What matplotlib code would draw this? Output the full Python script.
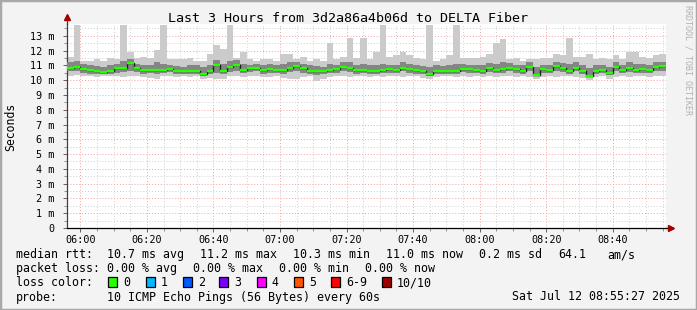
import matplotlib
matplotlib.use('Agg')
import matplotlib.pyplot as plt
import matplotlib.dates as mdates
from matplotlib.patches import Rectangle
from datetime import datetime, timedelta

# one value per 2 minutes, from 05:56 to 08:56 (ms)
median_rtt = [10.85, 10.9, 10.75, 10.7, 10.6, 10.55, 10.65, 10.8, 10.85, 11.15,
              10.8, 10.7, 10.7, 10.7, 10.7, 10.75, 10.65, 10.6, 10.6, 10.65,
              10.4, 10.6, 11.0, 10.65, 10.9, 11.05, 10.7, 10.8, 10.85, 10.7,
              10.75, 10.7, 10.7, 10.8, 10.95, 10.8, 10.65, 10.6, 10.6, 10.7,
              10.75, 10.9, 10.8, 10.7, 10.7, 10.65, 10.65, 10.7, 10.75, 10.7,
              10.85, 10.75, 10.7, 10.6, 10.4, 10.65, 10.65, 10.6, 10.6, 10.75,
              10.75, 10.7, 10.65, 10.8, 10.7, 10.75, 10.85, 10.75, 10.65, 10.9,
              10.35, 10.75, 10.7, 10.95, 10.8, 10.65, 10.85, 10.6, 10.3, 10.65,
              10.7, 10.5, 10.9, 10.7, 10.8, 10.7, 10.75, 10.7, 10.9, 10.95]
rtt_max = [11.6, 13.7, 11.3, 11.3, 11.4, 11.3, 11.5, 11.4, 13.7, 11.9,
           11.5, 11.6, 11.5, 12.05, 13.7, 11.4, 11.4, 11.4, 11.5, 11.3,
           11.3, 11.8, 12.4, 12.1, 13.7, 11.5, 11.9, 11.4, 11.3, 11.4,
           11.4, 11.3, 11.8, 11.8, 11.4, 11.6, 11.3, 11.4, 11.3, 12.5,
           11.4, 11.6, 12.85, 11.5, 12.85, 11.4, 11.9, 13.7, 11.6, 11.7,
           11.9, 11.7, 11.5, 11.4, 13.7, 11.3, 11.4, 11.7, 13.7, 11.5,
           11.5, 11.5, 11.6, 11.8, 12.5, 12.8, 11.4, 11.5, 11.3, 11.4,
           11.4, 11.5, 11.5, 11.8, 11.7, 12.85, 11.6, 11.6, 11.8, 11.4,
           11.5, 11.4, 11.7, 11.4, 11.9, 11.9, 11.6, 11.5, 11.7, 11.8]
rtt_min = [10.3, 10.35, 10.25, 10.3, 10.2, 10.25, 10.3, 10.25, 10.2, 10.3,
           10.3, 10.2, 10.15, 10.1, 10.25, 10.3, 10.2, 10.25, 10.2, 10.3,
           10.1, 10.15, 10.05, 10.1, 10.25, 10.3, 10.2, 10.3, 10.25, 10.2,
           10.2, 10.3, 10.15, 10.1, 10.05, 10.2, 10.3, 9.95, 10.05, 10.2,
           10.25, 10.3, 10.2, 10.25, 10.3, 10.2, 10.25, 10.2, 10.3, 10.25,
           10.2, 10.3, 10.25, 10.15, 10.05, 10.2, 10.25, 10.3, 10.2, 10.25,
           10.2, 10.25, 10.2, 10.3, 10.2, 10.3, 10.25, 10.2, 10.25, 10.2,
           10.1, 10.2, 10.25, 10.2, 10.25, 10.3, 10.2, 10.15, 10.0, 10.2,
           10.25, 10.1, 10.2, 10.25, 10.2, 10.3, 10.25, 10.2, 10.25, 10.25]
rtt_lo = [10.6, 10.6, 10.5, 10.45, 10.4, 10.4, 10.45, 10.5, 10.55, 10.6,
          10.55, 10.45, 10.5, 10.45, 10.5, 10.55, 10.45, 10.4, 10.4, 10.45,
          10.3, 10.4, 10.5, 10.45, 10.55, 10.6, 10.5, 10.55, 10.6, 10.45,
          10.5, 10.5, 10.45, 10.55, 10.6, 10.5, 10.45, 10.35, 10.4, 10.5,
          10.5, 10.6, 10.55, 10.45, 10.5, 10.45, 10.45, 10.5, 10.5, 10.5,
          10.6, 10.5, 10.45, 10.4, 10.3, 10.45, 10.45, 10.4, 10.4, 10.55,
          10.5, 10.5, 10.45, 10.55, 10.5, 10.5, 10.6, 10.5, 10.45, 10.6,
          10.25, 10.5, 10.5, 10.65, 10.55, 10.45, 10.6, 10.4, 10.2, 10.45,
          10.5, 10.35, 10.6, 10.5, 10.55, 10.5, 10.5, 10.5, 10.6, 10.65]
rtt_hi = [11.2, 11.3, 11.1, 11.0, 10.95, 10.9, 11.0, 11.1, 11.3, 11.45,
          11.1, 11.05, 11.0, 11.2, 11.1, 11.0, 10.95, 10.9, 11.0, 11.0,
          10.9, 11.0, 11.35, 11.1, 11.3, 11.35, 11.1, 11.05, 11.1, 11.0,
          11.1, 11.0, 11.1, 11.2, 11.25, 11.1, 11.0, 10.95, 10.9, 11.1,
          11.05, 11.2, 11.2, 11.05, 11.1, 11.0, 11.05, 11.1, 11.05, 11.05,
          11.2, 11.1, 11.0, 10.95, 10.9, 11.0, 10.95, 11.0, 11.1, 11.1,
          11.05, 11.0, 11.0, 11.15, 11.1, 11.2, 11.15, 11.05, 11.0, 11.2,
          10.9, 11.05, 11.0, 11.25, 11.15, 11.1, 11.2, 11.0, 10.85, 11.0,
          11.05, 10.9, 11.2, 11.05, 11.2, 11.1, 11.1, 11.0, 11.2, 11.25]

loss_labels = ['0', '1', '2', '3', '4', '5', '6-9', '10/10']
loss_colors = ['#26ff00', '#00b8ff', '#0059ff', '#7e00ff', '#ff00ff',
               '#ff5500', '#ff0000', '#a00000']

W, H = 697, 310
MONO = 'DejaVu Sans Mono'

fig = plt.figure(figsize=(W / 100, H / 100), dpi=100, facecolor='#f3f3f3')
ax = fig.add_axes([67 / W, 1 - 228 / H, (666 - 67) / W, (228 - 24) / H])
ax.set_facecolor('white')

start = datetime(2025, 7, 12, 5, 56)
edges = [start + timedelta(minutes=2 * i) for i in range(len(median_rtt) + 1)]
xs = mdates.date2num(edges)


def ext(a):
    return list(a) + [a[-1]]


ax.fill_between(xs, ext(rtt_min), ext(rtt_max), step='post', color='#cbcbcb', lw=0, zorder=2)
ax.fill_between(xs, ext(rtt_lo), ext(rtt_hi), step='post', color='#858585', lw=0, zorder=3)
ax.step(xs, ext(median_rtt), where='post', color='#202020', lw=1.0, zorder=4)
ax.hlines(median_rtt, xs[:-1], xs[1:], color=loss_colors[0], lw=1.7, zorder=5)

ax.set_xlim(xs[0], xs[-1])
ax.set_ylim(0, 13.8)

ax.yaxis.set_major_locator(plt.MultipleLocator(1))
ax.yaxis.set_minor_locator(plt.MultipleLocator(0.5))
ax.yaxis.set_major_formatter(plt.FuncFormatter(lambda v, p: '0' if v == 0 else '%d m' % v))
ax.xaxis.set_major_locator(mdates.MinuteLocator(byminute=[0, 20, 40]))
ax.xaxis.set_minor_locator(mdates.MinuteLocator(byminute=range(0, 60, 5)))
ax.xaxis.set_major_formatter(mdates.DateFormatter('%H:%M'))

ax.set_axisbelow(True)
ax.grid(which='major', color='#f2a0a0', ls=(0, (1, 2)), lw=0.7)
ax.grid(which='minor', color='#cfcfcf', ls=(0, (1, 2)), lw=0.7)

for lab in ax.get_xticklabels() + ax.get_yticklabels():
    lab.set_fontfamily(MONO)
    lab.set_fontsize(7.3)
ax.tick_params(which='major', length=3, width=0.7, color='#606060', pad=2)
ax.tick_params(which='minor', length=2, width=0.7, color='#909090')
ax.tick_params(axis='y', pad=6)

for s in ['top', 'right']:
    ax.spines[s].set_visible(False)
ax.spines['left'].set_color('#404040')
ax.spines['bottom'].set_color('#000000')
ax.spines['left'].set_linewidth(0.9)
ax.spines['bottom'].set_linewidth(0.9)

# axis arrows
ax.plot([0, 0], [1, 1.03], transform=ax.transAxes, color='#404040', lw=0.9, clip_on=False)
ax.plot([0], [1.035], marker='^', ms=5, color='#a00000', transform=ax.transAxes, clip_on=False)
ax.plot([1, 1.006], [0, 0], transform=ax.transAxes, color='#000000', lw=0.9, clip_on=False)
ax.plot([1.008], [0], marker='>', ms=5, color='#a00000', transform=ax.transAxes, clip_on=False)


def px(x, y):
    return x / W, 1 - y / H


fig.text(*px(348, 19), 'Last 3 Hours from 3d2a86a4b06d to DELTA Fiber',
         ha='center', va='center', family=MONO, fontsize=9.6)
fig.text(*px(10.5, 127), 'Seconds', rotation=90, ha='center', va='center',
         family=MONO, fontsize=8.3)
fig.text(*px(688, 60), 'RRDTOOL / TOBI OETIKER', rotation=270, ha='center', va='center',
         family=MONO, fontsize=6.0, color='#b0b0b0')

fs = 8.4
row1 = [(16, 'median rtt:'), (107, '10.7 ms avg'), (200, '11.2 ms max'), (293, '10.3 ms min'),
        (386, '11.0 ms now'), (479, '0.2 ms sd'), (558, '64.1'), (607, 'am/s')]
row2 = [(16, 'packet loss:'), (107, '0.00 % avg'), (193, '0.00 % max'), (279, '0.00 % min'),
        (365, '0.00 % now')]
for xp, t in row1:
    fig.text(*px(xp, 254.5), t, ha='left', va='center', family=MONO, fontsize=fs)
for xp, t in row2:
    fig.text(*px(xp, 268.5), t, ha='left', va='center', family=MONO, fontsize=fs)

fig.text(*px(16, 282.5), 'loss color:', ha='left', va='center', family=MONO, fontsize=fs)
box_x = [108.3, 145.7, 182.7, 219.3, 256.7, 294, 331, 381.7]
for bx, lab, col in zip(box_x, loss_labels, loss_colors):
    fig.patches.append(Rectangle((bx / W, 1 - 287 / H), 9 / W, 10 / H, transform=fig.transFigure,
                                 facecolor=col, edgecolor='black', lw=0.9))
    fig.text(*px(bx + 15, 282.5), lab, ha='left', va='center', family=MONO, fontsize=fs)

fig.text(*px(16, 297), 'probe:', ha='left', va='center', family=MONO, fontsize=fs)
fig.text(*px(107, 297), '10 ICMP Echo Pings (56 Bytes) every 60s', ha='left', va='center',
         family=MONO, fontsize=fs)
fig.text(*px(680, 297), 'Sat Jul 12 08:55:27 2025', ha='right', va='center',
         family=MONO, fontsize=fs)

# image frame
fig.patches.append(Rectangle((0, 0), 1, 1, transform=fig.transFigure, fill=False,
                             edgecolor='#a8a8a8', lw=2.5))

fig.savefig('out.png', dpi=100, facecolor=fig.get_facecolor())
